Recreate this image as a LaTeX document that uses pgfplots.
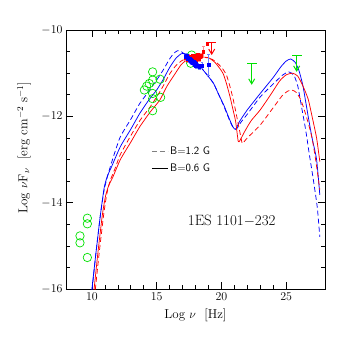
\documentclass[border=0pt]{standalone}
\usepackage{pgfplots}
\pgfplotsset{compat=1.18}
\usetikzlibrary{arrows.meta}
\definecolor{cgreen}{RGB}{0,225,0}
\definecolor{pinkerr}{RGB}{255,140,140}
\definecolor{lblue}{RGB}{110,130,255}
\pgfplotsset{
  sedline/.style={line width=0.75pt, smooth, tension=0.35, forget plot},
  sedd/.style={line width=0.75pt, smooth, tension=0.35, dash pattern=on 5bp off 3bp, forget plot}
}

\begin{document}
\begin{tikzpicture}
\begin{axis}[
  scale only axis, width=259bp, height=259bp,
  xmin=8, xmax=28, ymin=-16, ymax=-10,
  xtick={10,15,20,25}, ytick={-16,-14,-12,-10},
  minor x tick num=4, minor y tick num=3,
  tick align=inside, major tick length=7bp, minor tick length=4bp,
  axis line style={line width=0.8pt},
  every tick/.style={black, line width=0.6pt},
  tick label style={font=\fontsize{13}{15}\selectfont},
  label style={font=\fontsize{13}{15}\selectfont},
  xlabel={Log $\nu$ \ [Hz]},
  ylabel={Log $\nu$F$_\nu$ \ [erg cm$^{-2}$ s$^{-1}$]},
  xlabel style={at={(axis description cs:0.5,-0.10)}, anchor=center},
  ylabel style={at={(axis description cs:-0.162,0.546)}, anchor=center},
  legend style={at={(axis cs:14.35,-13.01)}, anchor=west, draw=none, fill=none,
    font=\sffamily\fontsize{11}{12}\selectfont, row sep=3bp, legend cell align=left},
  legend image code/.code={\draw[#1] (0bp,0bp) -- (16bp,0bp);}
]
% B=0.6 G, blue
\addplot[sedline, blue] coordinates {
(9.93,-16.2) (10.3,-15.2) (10.65,-14.3) (10.95,-13.65) (11.2,-13.38) (11.5,-13.18)
(12.2,-12.7) (13,-12.3) (13.7,-11.93) (14.4,-11.62) (15,-11.39) (15.5,-11.15)
(16,-10.87) (16.5,-10.65) (16.9,-10.55) (17.2,-10.55) (17.6,-10.63) (18.0,-10.75)
(18.4,-10.86) (19.0,-11.08) (19.4,-11.24) (19.8,-11.5) (20.2,-11.75) (20.6,-12.05)
(20.9,-12.25) (21.1,-12.3) (21.4,-12.12) (22,-11.85) (23,-11.47) (24,-11.1)
(24.6,-10.85) (25.0,-10.72) (25.35,-10.67) (25.7,-10.75) (26.0,-10.95) (26.3,-11.3)
(26.7,-12.0) (27.0,-12.5) (27.35,-13.0) (27.6,-13.82)};
% B=1.2 G, blue
\addplot[sedd, blue] coordinates {
(9.95,-16.2) (10.3,-15.2) (10.65,-14.3) (10.95,-13.7) (11.27,-13.32) (11.7,-12.9)
(12.2,-12.47) (13,-12.07) (13.7,-11.7) (14.4,-11.42) (15,-11.16) (15.5,-10.93)
(16,-10.67) (16.3,-10.55) (16.6,-10.48) (16.9,-10.5) (17.3,-10.6) (17.8,-10.72)
(18.4,-10.86) (19.0,-11.08) (19.4,-11.24) (19.8,-11.5) (20.2,-11.77) (20.6,-12.07)
(20.9,-12.26) (21.15,-12.3) (21.5,-12.14) (22,-11.95) (23,-11.55) (24,-11.25)
(24.7,-11.05) (25.2,-10.97) (25.6,-11.05) (25.9,-11.3) (26.2,-11.8) (26.5,-12.3)
(26.8,-12.9) (27.1,-13.47) (27.4,-14.1) (27.6,-14.79)};
% B=0.6 G, red
\addplot[sedline, red] coordinates {
(10.1,-16.2) (10.45,-15.2) (10.8,-14.3) (11.05,-13.85) (11.3,-13.6) (11.6,-13.42)
(12.2,-13.0) (13,-12.6) (13.7,-12.24) (14.5,-11.9) (15.25,-11.62) (15.8,-11.3)
(16.3,-11.07) (16.9,-10.8) (17.4,-10.68) (17.9,-10.64) (18.5,-10.63) (19.0,-10.64)
(19.5,-10.75) (19.9,-10.9) (20.15,-11.02) (20.4,-11.25) (20.66,-11.54) (20.9,-11.85)
(21.1,-12.12) (21.3,-12.58) (21.45,-12.55) (21.8,-12.35) (22.3,-12.1) (23,-11.85)
(23.8,-11.5) (24.5,-11.18) (25.0,-11.04) (25.5,-11.0) (25.9,-11.07) (26.3,-11.3)
(26.7,-11.6) (27.0,-12.0) (27.35,-12.5) (27.6,-13.05)};
% B=1.2 G, red
\addplot[sedd, red] coordinates {
(10.2,-16.2) (10.55,-15.2) (10.9,-14.3) (11.15,-13.8) (11.4,-13.5) (11.8,-13.2)
(12.2,-12.88) (13,-12.45) (13.7,-12.1) (14.5,-11.78) (15.0,-11.55) (15.5,-11.3)
(16,-11.02) (16.5,-10.82) (17,-10.7) (17.5,-10.66) (18.2,-10.64) (18.8,-10.64)
(19.3,-10.68) (19.8,-10.8) (20.1,-10.9) (20.4,-11.05) (20.7,-11.35) (20.92,-11.62)
(21.15,-11.95) (21.35,-12.25) (21.6,-12.62) (21.72,-12.6) (22,-12.5) (23,-12.2)
(24,-11.8) (24.7,-11.52) (25.1,-11.42) (25.45,-11.39) (25.8,-11.45) (26.1,-11.6)
(26.35,-11.8) (26.7,-12.15) (27.0,-12.5) (27.3,-13.05) (27.6,-13.7)};

% green archival data
\addplot[only marks, mark=o, mark size=4.2bp, cgreen, line width=0.7pt, forget plot] coordinates {
(9.08,-14.77) (9.08,-14.93) (9.65,-14.36) (9.65,-14.49) (9.65,-15.27)
(14.05,-11.39) (14.23,-11.30) (14.43,-11.24) (14.69,-10.97) (14.69,-11.16)
(14.69,-11.47) (14.69,-11.59) (14.69,-11.87) (15.26,-11.14) (15.31,-11.56)
(17.7,-10.58) (17.63,-10.77)};

% red X-ray data
\addplot[only marks, mark=square*, mark size=1.3bp, red, forget plot,
  error bars/.cd, y dir=both, y explicit, error bar style={pinkerr, line width=0.5pt}]
coordinates {
(17.25,-10.64) +- (0,0.05) (17.35,-10.69) +- (0,0.05) (17.45,-10.61) +- (0,0.05)
(17.55,-10.66) +- (0,0.05) (17.6,-10.71) +- (0,0.05) (17.7,-10.62) +- (0,0.04)
(17.75,-10.68) +- (0,0.04) (17.8,-10.59) +- (0,0.04) (17.85,-10.72) +- (0,0.04)
(17.9,-10.63) +- (0,0.04) (17.95,-10.67) +- (0,0.04) (18.0,-10.6) +- (0,0.04)
(18.05,-10.7) +- (0,0.04) (18.1,-10.62) +- (0,0.04) (18.15,-10.57) +- (0,0.04)
(18.2,-10.65) +- (0,0.05) (18.25,-10.6) +- (0,0.05) (18.3,-10.68) +- (0,0.05)
(18.35,-10.62) +- (0,0.05) (18.45,-10.6) +- (0,0.06) (18.6,-10.5) +- (0,0.12)
(18.9,-10.32) +- (0,0.04)};

% blue X-ray data
\addplot[only marks, mark=square*, mark size=1.3bp, blue, forget plot,
  error bars/.cd, y dir=both, y explicit, error bar style={lblue, line width=0.5pt}]
coordinates {
(17.2,-10.62) +- (0,0.04) (17.3,-10.58) +- (0,0.04) (17.35,-10.66) +- (0,0.04)
(17.45,-10.63) +- (0,0.04) (17.5,-10.7) +- (0,0.04) (17.55,-10.66) +- (0,0.04)
(17.6,-10.72) +- (0,0.04) (17.65,-10.68) +- (0,0.04) (17.7,-10.75) +- (0,0.04)
(17.75,-10.7) +- (0,0.04) (17.8,-10.77) +- (0,0.04) (17.85,-10.73) +- (0,0.04)
(17.9,-10.8) +- (0,0.04) (17.95,-10.76) +- (0,0.04) (18.0,-10.82) +- (0,0.04)
(18.05,-10.78) +- (0,0.04) (18.1,-10.84) +- (0,0.05) (18.2,-10.83) +- (0,0.05)
(18.3,-10.86) +- (0,0.05) (18.5,-10.82) +- (0,0.07) (19.0,-10.8) +- (0,0.25)};

% upper limits
\addplot[cgreen, line width=1pt, forget plot, quiver={u=0, v=-0.5},
  -{Straight Barb[length=5bp, width=6bp]}] coordinates {(22.34,-10.77)};
\addplot[cgreen, line width=1pt, forget plot, quiver={u=0, v=-0.39},
  -{Straight Barb[length=5bp, width=6bp]}] coordinates {(25.81,-10.58)};
\addplot[red, line width=1pt, forget plot, quiver={u=0, v=-0.29},
  -{Straight Barb[length=5bp, width=6bp]}] coordinates {(19.25,-10.29)};
\addplot[only marks, mark=-, mark size=5bp, cgreen, line width=1pt, forget plot]
  coordinates {(22.34,-10.77) (25.81,-10.58)};
\addplot[only marks, mark=-, mark size=4bp, red, line width=1pt, forget plot]
  coordinates {(19.25,-10.29)};

\addlegendimage{gray, line width=0.75pt, dash pattern=on 5bp off 3bp}
\addlegendentry{B=1.2 G}
\addlegendimage{black, line width=0.75pt}
\addlegendentry{B=0.6 G}

\node[font=\fontsize{15}{17}\selectfont] at (axis cs:20.8,-14.42) {1ES 1101$-$232};
\end{axis}
\pgfresetboundingbox
\path[use as bounding box] (current axis.south west) ++(-66bp,-65bp) rectangle ++(354bp,354bp);
\end{tikzpicture}
\end{document}
